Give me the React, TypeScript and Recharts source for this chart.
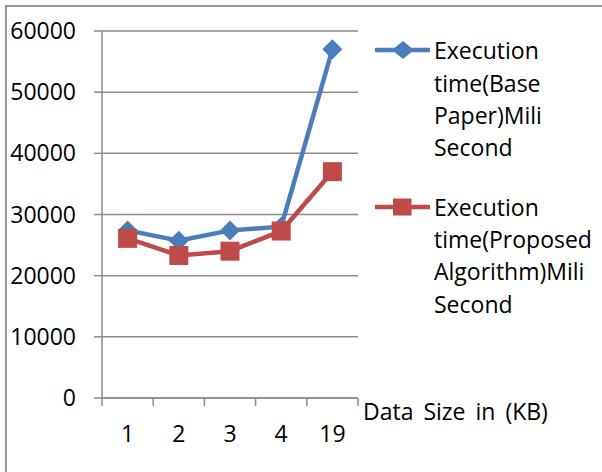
import React from "react";
import { LineChart, Line, XAxis, YAxis, CartesianGrid, Legend, Label } from "recharts";

const categories = ["1", "2", "3", "4", "19"];
const baseValues = [27400, 25700, 27400, 28000, 57000];
const proposedValues = [26100, 23300, 24000, 27300, 37000];
const yTicks = [0, 10000, 20000, 30000, 40000, 50000, 60000];
const baseName = "Execution time(Base Paper)Mili Second";
const proposedName = "Execution time(Proposed Algorithm)Mili Second";
const xAxisTitle = "Data Size in (KB)";

const data = categories.map((c, i) => ({ cat: c, base: baseValues[i], proposed: proposedValues[i] }));

const BLUE = "#4A7EBB";
const RED = "#BE4B48";
const GRID = "#8c8c8c";
const FONT = "'Open Sans', sans-serif";
const FS = 23;

const W = 602;
const H = 472;
const M = { top: 31, right: 244, left: 0, bottom: 46 };
const Y_W = 102;
const X_H = 28;
const HALF_BAND = (W - M.right - Y_W) / categories.length / 2;

const Diamond = (props: any) => {
  const { cx, cy } = props;
  if (cx == null || cy == null) return null;
  const r = 10;
  return <path d={`M${cx},${cy - r}L${cx + r},${cy}L${cx},${cy + r}L${cx - r},${cy}Z`} fill={BLUE} stroke="none" />;
};

const Square = (props: any) => {
  const { cx, cy } = props;
  if (cx == null || cy == null) return null;
  const s = 19;
  return <rect x={cx - s / 2} y={cy - s / 2} width={s} height={s} fill={RED} stroke="none" />;
};

const XTick = (props: any) => {
  const { x, y, payload, index } = props;
  const axisY = y - 8 - 20;
  const last = index === categories.length - 1;
  return (
    <g>
      <line x1={x - HALF_BAND} x2={x - HALF_BAND} y1={axisY} y2={axisY + 8} stroke={GRID} strokeWidth={1.5} />
      {last && <line x1={x + HALF_BAND} x2={x + HALF_BAND} y1={axisY} y2={axisY + 8} stroke={GRID} strokeWidth={1.5} />}
      <text x={x} y={y} dy="0.71em" textAnchor="middle" fontFamily={FONT} fontSize={FS} fill="#000">
        {payload.value}
      </text>
    </g>
  );
};

const LegendContent = () => {
  const items = [
    { name: baseName, color: BLUE, shape: "diamond" },
    { name: proposedName, color: RED, shape: "square" },
  ];
  return (
    <div style={{ display: "flex", flexDirection: "column" }}>
      {items.map((it, i) => (
        <div key={i} style={{ display: "flex", flexDirection: "row", alignItems: "flex-start", marginTop: i === 0 ? 0 : 26.8 }}>
          <div style={{ width: 55, height: 32.4, display: "flex", alignItems: "center", marginRight: 4 }}>
            <svg width={55} height={22}>
              <line x1={1} x2={54} y1={11} y2={11} stroke={it.color} strokeWidth={4.5} strokeLinecap="round" />
              {it.shape === "diamond" ? (
                <path d="M28,2L39,11L28,20L17,11Z" fill={it.color} />
              ) : (
                <rect x={18} y={2.5} width={18.5} height={17} fill={it.color} />
              )}
            </svg>
          </div>
          <div style={{ width: 168, fontFamily: FONT, fontSize: FS, lineHeight: "32.4px", color: "#000" }}>{it.name}</div>
        </div>
      ))}
    </div>
  );
};

export default function App() {
  return (
    <div style={{ position: "absolute", left: 0, top: 0, width: W, height: H, background: "#fff", overflow: "hidden" }}>
      <div
        style={{
          position: "absolute",
          left: 5,
          top: 5,
          width: W,
          height: H,
          borderTop: "2px solid #9a9a9a",
          borderLeft: "2px solid #9a9a9a",
          boxSizing: "border-box",
        }}
      />
      <div style={{ position: "absolute", left: 0, top: 0 }}>
        <LineChart width={W} height={H} data={data} margin={M}>
          <CartesianGrid horizontal={true} vertical={false} stroke={GRID} strokeWidth={1.5} />
          <XAxis
            dataKey="cat"
            type="category"
            scale="band"
            height={X_H}
            axisLine={{ stroke: GRID, strokeWidth: 1.5 }}
            tickLine={false}
            tickSize={8}
            tickMargin={20}
            tick={<XTick />}
            interval={0}
          >
            <Label
              position="right"
              offset={5}
              content={(p: any) => {
                const vb = p.viewBox || {};
                return (
                  <text
                    x={vb.x + vb.width + 5}
                    y={vb.y}
                    dy={22.3}
                    textAnchor="start"
                    fontFamily={FONT}
                    fontSize={FS}
                    fill="#000"
                    style={{ wordSpacing: 4 }}
                  >
                    {xAxisTitle}
                  </text>
                );
              }}
            />
          </XAxis>
          <YAxis
            type="number"
            domain={[0, 60000]}
            ticks={yTicks}
            width={Y_W}
            axisLine={{ stroke: GRID, strokeWidth: 1.5 }}
            tickLine={{ stroke: GRID, strokeWidth: 1.5 }}
            tickSize={8}
            tickMargin={18}
            tick={{ fontFamily: FONT, fontSize: FS, fill: "#000" }}
            interval={0}
          />
          <Legend
            layout="horizontal"
            verticalAlign="middle"
            align="center"
            content={<LegendContent />}
            wrapperStyle={{ top: 34.2, left: 375, width: 227, height: "auto" }}
          />
          <Line
            name={baseName}
            dataKey="base"
            type="linear"
            stroke={BLUE}
            strokeWidth={4.5}
            dot={<Diamond />}
            activeDot={false}
            isAnimationActive={false}
          />
          <Line
            name={proposedName}
            dataKey="proposed"
            type="linear"
            stroke={RED}
            strokeWidth={4.5}
            dot={<Square />}
            activeDot={false}
            isAnimationActive={false}
          />
        </LineChart>
      </div>
    </div>
  );
}
